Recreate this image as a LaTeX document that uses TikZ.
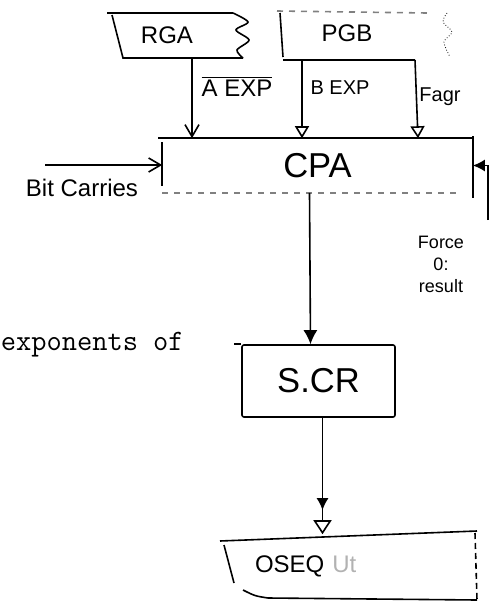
\documentclass[tikz,border=0pt]{standalone}
\usepackage{fontspec}
\setsansfont{Liberation Sans}
\usetikzlibrary{arrows.meta, positioning, calc}

\begin{document}
\begin{tikzpicture}[x=0.5pt, y=-0.5pt, line width=0.8pt,
  hand/.style={font=\sffamily},
  blk/.style={rectangle, inner sep=0pt}]

\useasboundingbox (0,0) rectangle (496,605);

% Define nodes
\node[hand, font=\sffamily\large] (rga) at (167,35) {RGA};
\node[hand, font=\sffamily\large] (pgb) at (347,33) {PGB};
\node[blk, minimum width=154.5pt, minimum height=26.5pt, font=\sffamily\LARGE] (cpa) at (317.5,165.5) {CPA};
\node[blk, draw, rounded corners=1pt, minimum width=76.5pt, minimum height=36pt, font=\sffamily\LARGE] (scr) at (318.5,381) {S.CR};
\node[blk, minimum width=126pt, minimum height=31.5pt, inner xsep=15pt, text width=96pt, align=left, font=\sffamily\large] (oseq) at (351,566.5) {OSEQ \textcolor{gray!60}{Ut}};

% Printed text of the page
\node[anchor=base west, inner sep=0pt, font=\fontsize{14.8}{17}\selectfont\ttfamily] (expo) at (0,350) {exponents of};

% Hand drawn outlines
\draw (107,13) -- (233,13);
\draw plot[smooth] coordinates {(233,13) (248,22) (236,30) (249,40) (237,50) (243,58)};
\draw (112,15) -- (123,58) -- (243,58);
\draw[dashed, gray] (277,11) -- (427,13);
\draw (280,13) -- (283,57);
\draw (283,60) -- (415,60);
\draw[densely dotted, thin] plot[smooth] coordinates {(447,13) (443,22) (452,32) (444,42) (450,57)};

\draw ([xshift=-2pt]cpa.north west) -- (cpa.north east);
\draw ([yshift=-2pt]cpa.north west) -- ([yshift=3.5pt]cpa.south west);
\draw[dashed, gray] (cpa.south west) -- ([xshift=-8pt]cpa.south east);
\draw ([yshift=1pt]cpa.north east) -- ([yshift=-2.5pt]cpa.south east);

\draw ([xshift=-3.5pt]scr.north west) -- (scr.north west);

\draw (220,541) -- (477,531);
\draw (224,545) -- (234,583);
\draw (243,590) .. controls (255,596) .. (268,598) -- (477,600);
\draw[densely dashed] (475,533) -- (477,600);

% Inputs into the adder
\coordinate (rga-out) at (192,58);
\coordinate (pgb-out) at (302,60);
\coordinate (pgb-out2) at (415,60);
\draw[-{Straight Barb[length=6pt, width=7pt]}] (rga-out) -- (rga-out |- cpa.north);
\draw[-{Triangle[open, length=6pt, width=7pt]}] (pgb-out) -- (pgb-out |- cpa.north);
\draw[-{Triangle[open, length=6pt, width=7pt]}] (pgb-out2) -- ([xshift=1.5pt]pgb-out2 |- cpa.north);

\node[hand, font=\sffamily\large] (aexp) at (237,86) {$\overline{\mbox{A EXP}}$};
\node[hand] (bexp) at (340,88) {B EXP};
\node[hand] (fagr) at (440,97) {Fagr};

% Carries and force
\coordinate (carry-in) at (45,165);
\draw[-{Straight Barb[length=6pt, width=7pt]}] (carry-in) -- (carry-in -| cpa.west);
\node[hand, font=\sffamily\large] (carry) at (82,188) {Bit Carries};

\coordinate (force-in) at (488,220);
\draw[-{Latex[length=6pt, width=6pt]}] (force-in) |- (cpa.east);
\node[hand, align=center, font=\sffamily\small] (force) at (441,264) {Force\\0:\\result};

% Down the chain
\draw[-{Latex[length=7pt, width=7pt]}] ([xshift=-4pt]cpa.south) -- ([xshift=-4pt]scr.north);
\draw[-{Latex[length=6pt, width=6pt, sep=5pt] Triangle[open, length=7pt, width=9pt]}] ([xshift=2pt]scr.south) -- ([xshift=2pt]scr.south |- oseq.north);

\end{tikzpicture}
\end{document}
